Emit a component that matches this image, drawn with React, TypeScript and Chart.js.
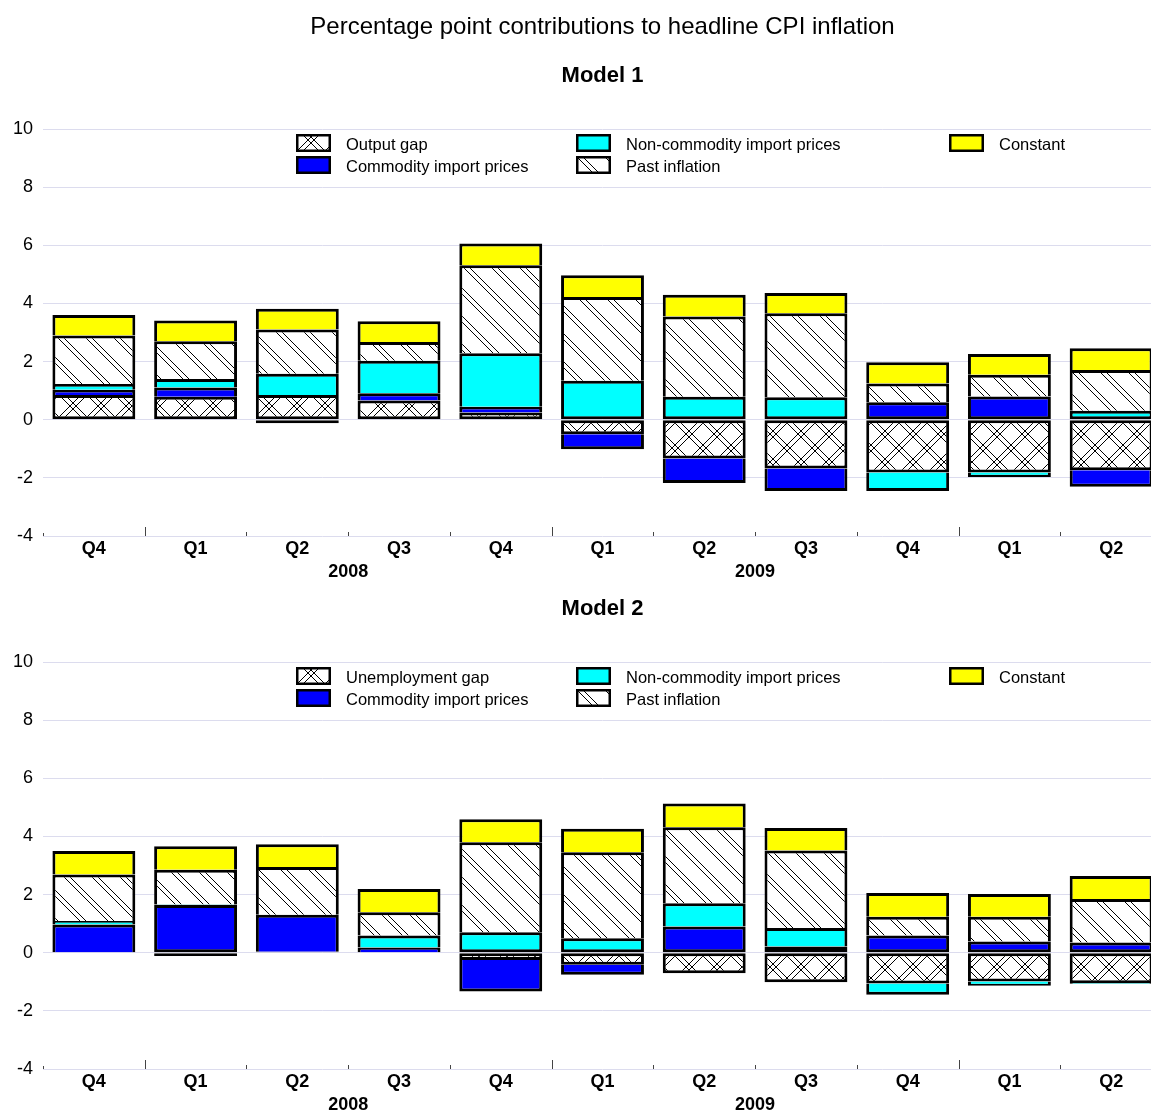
import React, { useEffect, useRef } from 'react';
import { Chart, registerables } from 'chart.js';

Chart.register(...registerables);

const quarters = ['Q4', 'Q1', 'Q2', 'Q3', 'Q4', 'Q1', 'Q2', 'Q3', 'Q4', 'Q1', 'Q2'];
const yearLabels = ['2008', '2009'];
const yearFirstIndex = [1, 5];
const yearLastIndex = [4, 8];
const yearBoundaryIndex = [1, 5, 9];

const mainTitle = 'Percentage point contributions to headline CPI inflation';
const panelTitles = ['Model 1', 'Model 2'];
const gapLabels = ['Output gap', 'Unemployment gap'];
const commodityLabel = 'Commodity import prices';
const nonCommodityLabel = 'Non-commodity import prices';
const pastLabel = 'Past inflation';
const constantLabel = 'Constant';

// Model 1
const outputGap1 = [0.85, 0.79, 0.85, 0.66, 0.25, -0.5, -1.33, -1.68, -1.82, -1.82, -1.74];
const commodity1 = [0.18, 0.32, -0.12, 0.25, 0.2, -0.52, -0.85, -0.77, 0.6, 0.8, -0.57];
const nonCommodity1 = [0.2, 0.29, 0.73, 1.12, 1.84, 1.34, 0.79, 0.77, -0.63, -0.15, 0.31];
const pastInflation1 = [1.67, 1.3, 1.52, 0.64, 3.02, 2.88, 2.76, 2.89, 0.65, 0.75, 1.4];
const constant1 = [0.7, 0.71, 0.72, 0.72, 0.75, 0.75, 0.75, 0.7, 0.73, 0.71, 0.75];

// Model 2
const unemploymentGap2 = [0.02, -0.11, 0.03, 0.02, -0.25, -0.41, -0.71, -1.02, -1.06, -0.99, -1.05];
const commodity2 = [0.95, 1.64, 1.28, 0.16, -1.08, -0.35, 0.9, 0.21, 0.59, 0.39, 0.35];
const nonCommodity2 = [0.12, 0.02, 0.0, 0.41, 0.7, 0.5, 0.8, 0.64, -0.39, -0.15, -0.03];
const pastInflation2 = [1.6, 1.19, 1.64, 0.8, 3.1, 2.96, 2.62, 2.67, 0.65, 0.85, 1.5];
const constant2 = [0.81, 0.81, 0.78, 0.8, 0.79, 0.8, 0.81, 0.77, 0.81, 0.78, 0.79];

const yMin = -4;
const yMax = 10;
const yStep = 2;

const FONT = "'Liberation Sans', Arial, sans-serif";
const GRID = '#dcdcee';
const BW = 3;

function makePattern(kind: 'cross' | 'diag'): CanvasPattern | string {
  const s = 28;
  const cv = document.createElement('canvas');
  cv.width = s;
  cv.height = s;
  const ctx = cv.getContext('2d');
  if (!ctx) return '#fff';
  ctx.fillStyle = '#fff';
  ctx.fillRect(0, 0, s, s);
  ctx.strokeStyle = '#000';
  ctx.lineWidth = 1;
  const offs = [0, 6];
  ctx.beginPath();
  for (const o of offs) {
    for (const k of [-1, 0, 1]) {
      const c0 = o + k * s;
      ctx.moveTo(c0, 0);
      ctx.lineTo(c0 + s, s);
    }
  }
  if (kind === 'cross') {
    for (const o of offs) {
      for (const k of [0, 1, 2]) {
        const c0 = o + k * s;
        ctx.moveTo(c0, 0);
        ctx.lineTo(c0 - s, s);
      }
    }
  }
  ctx.stroke();
  return ctx.createPattern(cv, 'repeat') || '#fff';
}

function borderFor(ctx: any) {
  const i = ctx.dataIndex;
  const d = ctx.datasetIndex;
  const ds = ctx.chart.data.datasets;
  const v = ds[d].data[i] as number;
  let first = true;
  for (let j = 0; j < d; j++) {
    const w = ds[j].data[i] as number;
    if (v >= 0 ? w > 0 : w < 0) first = false;
  }
  if (v >= 0) return { top: BW, left: BW, right: BW, bottom: first ? BW : 0 };
  return { bottom: BW, left: BW, right: BW, top: first ? BW : 0 };
}

const legendPlugin = {
  id: 'customLegend',
  afterDraw(chart: any) {
    const ctx = chart.ctx;
    const area = chart.chartArea;
    const colX = [253, 533, 906];
    const rowY = [5, 27];
    const boxW = 35;
    const boxH = 18;
    ctx.save();
    ctx.font = `16.5px ${FONT}`;
    ctx.textBaseline = 'middle';
    ctx.textAlign = 'left';
    chart.data.datasets.forEach((ds: any, k: number) => {
      const col = Math.floor(k / 2);
      const row = k % 2;
      const x = area.left + colX[col];
      const y = area.top + rowY[row];
      ctx.fillStyle = ds.backgroundColor;
      ctx.fillRect(x, y, boxW, boxH);
      ctx.lineWidth = 2.5;
      ctx.strokeStyle = '#000';
      ctx.strokeRect(x + 1.25, y + 1.25, boxW - 2.5, boxH - 2.5);
      ctx.fillStyle = '#000';
      ctx.fillText(ds.label, x + 50, y + boxH / 2 + 2);
    });
    ctx.restore();
  },
};

const axisExtrasPlugin = {
  id: 'axisExtras',
  afterDraw(chart: any) {
    const ctx = chart.ctx;
    const area = chart.chartArea;
    const xs = chart.scales.x;
    ctx.save();
    ctx.strokeStyle = '#444';
    ctx.lineWidth = 1;
    ctx.beginPath();
    const lx = Math.round(area.left) + 0.5;
    ctx.moveTo(lx, area.bottom);
    ctx.lineTo(lx, area.bottom - 3);
    for (let i = 1; i < quarters.length; i++) {
      const px = Math.round((xs.getPixelForTick(i - 1) + xs.getPixelForTick(i)) / 2) + 0.5;
      const tall = yearBoundaryIndex.includes(i);
      ctx.moveTo(px, area.bottom);
      ctx.lineTo(px, area.bottom - (tall ? 9 : 4));
    }
    ctx.stroke();
    ctx.fillStyle = '#000';
    ctx.font = `bold 18px ${FONT}`;
    ctx.textAlign = 'center';
    ctx.textBaseline = 'middle';
    yearLabels.forEach((lab, k) => {
      const cx = (xs.getPixelForTick(yearFirstIndex[k]) + xs.getPixelForTick(yearLastIndex[k])) / 2;
      ctx.fillText(lab, cx, area.bottom + 36);
    });
    ctx.restore();
  },
};

function buildConfig(panel: number): any {
  const p = makePattern('cross');
  const h = makePattern('diag');
  const gap = panel === 0 ? outputGap1 : unemploymentGap2;
  const com = panel === 0 ? commodity1 : commodity2;
  const non = panel === 0 ? nonCommodity1 : nonCommodity2;
  const past = panel === 0 ? pastInflation1 : pastInflation2;
  const cons = panel === 0 ? constant1 : constant2;
  const common = {
    borderColor: '#000',
    borderWidth: borderFor,
    borderSkipped: false,
    barPercentage: 0.815,
    categoryPercentage: 1,
    stack: 's',
    yAxisID: 'y',
  };
  return {
    type: 'bar',
    data: {
      labels: quarters,
      datasets: [
        { label: gapLabels[panel], data: gap, backgroundColor: p, ...common },
        { label: commodityLabel, data: com, backgroundColor: '#0000ff', ...common },
        { label: nonCommodityLabel, data: non, backgroundColor: '#00ffff', ...common },
        { label: pastLabel, data: past, backgroundColor: h, ...common },
        { label: constantLabel, data: cons, backgroundColor: '#ffff00', ...common },
      ],
    },
    options: {
      animation: false,
      responsive: false,
      devicePixelRatio: 1,
      layout: { padding: { left: 0, right: 0, top: 0, bottom: 17.4 } },
      plugins: {
        legend: { display: false },
        tooltip: { enabled: false },
        title: {
          display: panel === 0,
          text: mainTitle,
          color: '#000',
          font: { family: FONT, size: 24, weight: 'normal' },
          padding: { top: 12.6, bottom: 0 },
        },
        subtitle: {
          display: true,
          text: panelTitles[panel],
          color: '#000',
          font: { family: FONT, size: 22, weight: 'bold' },
          padding: { top: panel === 0 ? 21.4 : 62.8, bottom: 39.8 },
        },
      },
      scales: {
        x: {
          stacked: true,
          grid: { display: false, drawTicks: false },
          border: { display: false },
          ticks: {
            color: '#000',
            font: { family: FONT, size: 18, weight: 'bold' },
            padding: 2,
            autoSkip: false,
            maxRotation: 0,
          },
        },
        y: {
          stacked: true,
          min: yMin,
          max: yMax,
          grid: { color: GRID, lineWidth: 1, drawTicks: false },
          border: { display: false },
          ticks: {
            stepSize: yStep,
            color: '#000',
            font: { family: FONT, size: 18 },
            padding: 10,
            callback: (v: any) => String(v),
          },
          afterFit: (scale: any) => {
            scale.width = 43;
          },
        },
        yRight: {
          position: 'right',
          min: yMin,
          max: yMax,
          grid: { display: false, drawTicks: false },
          border: { display: false },
          ticks: { display: false },
          afterFit: (scale: any) => {
            scale.width = 43;
          },
        },
      },
    },
    plugins: [legendPlugin, axisExtrasPlugin],
  };
}

function Panel({ index, top }: { index: number; top: number }) {
  const ref = useRef<HTMLCanvasElement | null>(null);
  useEffect(() => {
    if (!ref.current) return;
    const chart = new Chart(ref.current, buildConfig(index));
    return () => chart.destroy();
  }, [index]);
  return (
    <canvas
      ref={ref}
      width={1205}
      height={579}
      style={{ position: 'absolute', left: 0, top, width: 1205, height: 579 }}
    />
  );
}

export default function App() {
  return (
    <div
      style={{
        position: 'absolute',
        left: 0,
        top: 0,
        width: 1151,
        height: 1112,
        overflow: 'hidden',
        background: '#fff',
      }}
    >
      <Panel index={0} top={0} />
      <Panel index={1} top={533} />
    </div>
  );
}
